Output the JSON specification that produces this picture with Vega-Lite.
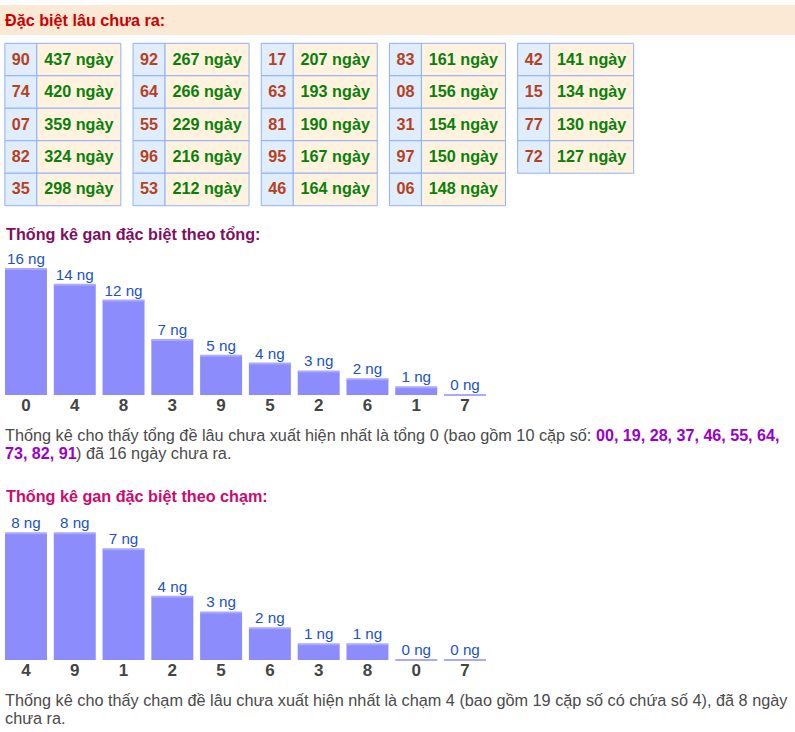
{
  "$schema": "https://vega.github.io/schema/vega-lite/v6.json",
  "width": 795,
  "height": 732,
  "padding": 0,
  "autosize": "none",
  "background": "#ffffff",
  "config": {"view": {"stroke": null}, "font": "Liberation Sans"},
  "datasets": {
    "table": [
      {"g": 0, "r": 0, "so": "90", "n": 437}, {"g": 0, "r": 1, "so": "74", "n": 420}, {"g": 0, "r": 2, "so": "07", "n": 359}, {"g": 0, "r": 3, "so": "82", "n": 324}, {"g": 0, "r": 4, "so": "35", "n": 298},
      {"g": 1, "r": 0, "so": "92", "n": 267}, {"g": 1, "r": 1, "so": "64", "n": 266}, {"g": 1, "r": 2, "so": "55", "n": 229}, {"g": 1, "r": 3, "so": "96", "n": 216}, {"g": 1, "r": 4, "so": "53", "n": 212},
      {"g": 2, "r": 0, "so": "17", "n": 207}, {"g": 2, "r": 1, "so": "63", "n": 193}, {"g": 2, "r": 2, "so": "81", "n": 190}, {"g": 2, "r": 3, "so": "95", "n": 167}, {"g": 2, "r": 4, "so": "46", "n": 164},
      {"g": 3, "r": 0, "so": "83", "n": 161}, {"g": 3, "r": 1, "so": "08", "n": 156}, {"g": 3, "r": 2, "so": "31", "n": 154}, {"g": 3, "r": 3, "so": "97", "n": 150}, {"g": 3, "r": 4, "so": "06", "n": 148},
      {"g": 4, "r": 0, "so": "42", "n": 141}, {"g": 4, "r": 1, "so": "15", "n": 134}, {"g": 4, "r": 2, "so": "77", "n": 130}, {"g": 4, "r": 3, "so": "72", "n": 127}
    ],
    "tong": [
      {"d": "0", "v": 16}, {"d": "4", "v": 14}, {"d": "8", "v": 12}, {"d": "3", "v": 7}, {"d": "9", "v": 5},
      {"d": "5", "v": 4}, {"d": "2", "v": 3}, {"d": "6", "v": 2}, {"d": "1", "v": 1}, {"d": "7", "v": 0}
    ],
    "cham": [
      {"d": "4", "v": 8}, {"d": "9", "v": 8}, {"d": "1", "v": 7}, {"d": "2", "v": 4}, {"d": "5", "v": 3},
      {"d": "6", "v": 2}, {"d": "3", "v": 1}, {"d": "8", "v": 1}, {"d": "0", "v": 0}, {"d": "7", "v": 0}
    ],
    "one": [{"k": 1}]
  },
  "layer": [
    {
      "data": {"name": "one"},
      "mark": {"type": "rect", "x": 0, "x2": 795, "y": 5, "y2": 35, "fill": "#fce9d5"},
      "encoding": {}
    },
    {
      "data": {"name": "one"},
      "mark": {"type": "text", "x": 5, "y": 26, "align": "left", "baseline": "alphabetic", "text": "Đặc biệt lâu chưa ra:", "fontSize": 16.2, "fontWeight": "bold", "fill": "#cc0000"},
      "encoding": {}
    },
    {
      "data": {"name": "table"},
      "transform": [{"calculate": "datum.n + ' ngày'", "as": "lbl"}],
      "encoding": {
        "x": {"field": "g", "type": "ordinal", "axis": null, "scale": {"type": "band", "range": [5, 633.5], "paddingInner": 0.0975, "paddingOuter": 0}},
        "y": {"field": "r", "type": "ordinal", "axis": null, "scale": {"type": "band", "range": [43.3, 205.7], "paddingInner": 0, "paddingOuter": 0}}
      },
      "layer": [
        {"mark": {"type": "bar", "width": 32, "xOffset": -42, "fill": "#e0edfd", "stroke": "#8fb1f5", "strokeWidth": 1}},
        {"mark": {"type": "bar", "width": 84, "xOffset": 16, "fill": "#fff3e0", "stroke": "#8fb1f5", "strokeWidth": 1}},
        {"mark": {"type": "text", "xOffset": -42, "baseline": "middle", "fontSize": 16.2, "fontWeight": "bold", "fill": "#b5421d"}, "encoding": {"text": {"field": "so"}}},
        {"mark": {"type": "text", "xOffset": 16, "baseline": "middle", "fontSize": 16.2, "fontWeight": "bold", "fill": "#0a800a"}, "encoding": {"text": {"field": "lbl"}}}
      ]
    },
    {
      "data": {"name": "one"},
      "mark": {"type": "text", "x": 6, "y": 240, "align": "left", "baseline": "alphabetic", "text": "Thống kê gan đặc biệt theo tổng:", "fontSize": 16.2, "fontWeight": "bold", "fill": "#7f0f5f"},
      "encoding": {}
    },
    {
      "data": {"name": "tong"},
      "transform": [{"calculate": "datum.v + ' ng'", "as": "lbl"}],
      "encoding": {
        "x": {"field": "d", "type": "nominal", "sort": null, "axis": null, "scale": {"type": "band", "range": [5, 486], "paddingInner": 0.14, "paddingOuter": 0}},
        "y": {"field": "v", "type": "quantitative", "axis": null, "scale": {"domain": [0, 16], "range": [395, 269], "nice": false, "zero": true}}
      },
      "layer": [
        {"mark": {"type": "bar", "fill": "#8c8cfd"}},
        {"mark": {"type": "tick", "thickness": 2, "size": 42, "color": "#a9a9ff", "opacity": 1}},
        {"mark": {"type": "text", "dy": -5, "baseline": "alphabetic", "fontSize": 15.2, "fill": "#2152c4"}, "encoding": {"text": {"field": "lbl"}}},
        {"mark": {"type": "text", "dy": 16, "baseline": "alphabetic", "fontSize": 17, "fontWeight": "bold", "fill": "#444444"}, "encoding": {"y": {"datum": 0, "type": "quantitative"}, "text": {"field": "d"}}}
      ]
    },
    {
      "data": {"name": "one"},
      "layer": [
        {"mark": {"type": "text", "x": 5, "y": 441, "align": "left", "baseline": "alphabetic", "text": "Thống kê cho thấy tổng đề lâu chưa xuất hiện nhất là tổng 0 (bao gồm 10 cặp số:", "fontSize": 16.25, "fill": "#4a4a4a"}, "encoding": {}},
        {"mark": {"type": "text", "x": 596, "y": 441, "align": "left", "baseline": "alphabetic", "text": "00, 19, 28, 37, 46, 55, 64,", "fontSize": 16.1, "fontWeight": "bold", "fill": "#9900cc"}, "encoding": {}},
        {"mark": {"type": "text", "x": 5, "y": 459, "align": "left", "baseline": "alphabetic", "text": "73, 82, 91", "fontSize": 16.1, "fontWeight": "bold", "fill": "#9900cc"}, "encoding": {}},
        {"mark": {"type": "text", "x": 76, "y": 459, "align": "left", "baseline": "alphabetic", "text": ") đã 16 ngày chưa ra.", "fontSize": 16.25, "fill": "#4a4a4a"}, "encoding": {}},
        {"mark": {"type": "text", "x": 6, "y": 502, "align": "left", "baseline": "alphabetic", "text": "Thống kê gan đặc biệt theo chạm:", "fontSize": 16.2, "fontWeight": "bold", "fill": "#cc0a6e"}, "encoding": {}},
        {"mark": {"type": "text", "x": 5, "y": 706, "align": "left", "baseline": "alphabetic", "text": "Thống kê cho thấy chạm đề lâu chưa xuất hiện nhất là chạm 4 (bao gồm 19 cặp số có chứa số 4), đã 8 ngày", "fontSize": 16.25, "fill": "#4a4a4a"}, "encoding": {}},
        {"mark": {"type": "text", "x": 5, "y": 724, "align": "left", "baseline": "alphabetic", "text": "chưa ra.", "fontSize": 16.25, "fill": "#4a4a4a"}, "encoding": {}}
      ]
    },
    {
      "data": {"name": "cham"},
      "transform": [{"calculate": "datum.v + ' ng'", "as": "lbl"}],
      "encoding": {
        "x": {"field": "d", "type": "nominal", "sort": null, "axis": null, "scale": {"type": "band", "range": [5, 486], "paddingInner": 0.14, "paddingOuter": 0}},
        "y": {"field": "v", "type": "quantitative", "axis": null, "scale": {"domain": [0, 8], "range": [660, 533.3], "nice": false, "zero": true}}
      },
      "layer": [
        {"mark": {"type": "bar", "fill": "#8c8cfd"}},
        {"mark": {"type": "tick", "thickness": 2, "size": 42, "color": "#a9a9ff", "opacity": 1}},
        {"mark": {"type": "text", "dy": -5, "baseline": "alphabetic", "fontSize": 15.2, "fill": "#2152c4"}, "encoding": {"text": {"field": "lbl"}}},
        {"mark": {"type": "text", "dy": 16, "baseline": "alphabetic", "fontSize": 17, "fontWeight": "bold", "fill": "#444444"}, "encoding": {"y": {"datum": 0, "type": "quantitative"}, "text": {"field": "d"}}}
      ]
    }
  ],
  "resolve": {"scale": {"x": "independent", "y": "independent"}}
}
